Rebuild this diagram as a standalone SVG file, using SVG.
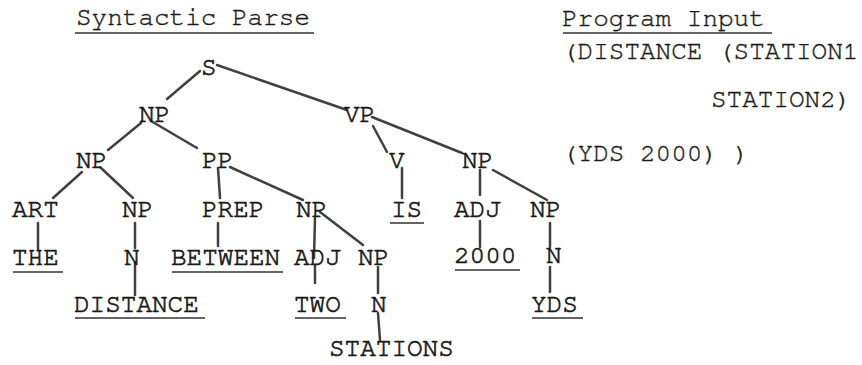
<svg xmlns="http://www.w3.org/2000/svg" width="862" height="365" viewBox="0 0 862 365">
<style>
text{font-family:"Nimbus Mono PS","FreeMono","Courier","Liberation Mono",monospace;font-size:26px;fill:#1a1a1a;stroke:#1a1a1a;stroke-width:0.7}
.t{stroke-width:0.4}
.ul{stroke:#333;stroke-width:1.6}
.c line{stroke:#404040;stroke-width:2.5;stroke-linecap:round}
</style>
<rect width="862" height="365" fill="#fff"/>
<g id="title-parse"><text class="t" x="76" y="25">Syntactic Parse</text><line class="ul" x1="75" y1="33" x2="314" y2="33"/></g>
<g id="title-input"><text class="t" x="562" y="26">Program Input</text><line class="ul" x1="563" y1="33" x2="772" y2="33"/></g>
<g id="input-text">
<text class="t" x="562" y="59">(DISTANCE (STATION1</text>
<text class="t" x="711" y="107">STATION2)</text>
<text class="t" x="562" y="161">(YDS 2000) )</text>
</g>
<g class="c" id="connectors">
<line x1="200" y1="71" x2="167" y2="99"/>
<line x1="217" y1="65" x2="347" y2="110"/>
<line x1="141" y1="123" x2="108" y2="150"/>
<line x1="151" y1="121" x2="197" y2="148"/>
<line x1="373" y1="126" x2="387" y2="152"/>
<line x1="372" y1="117" x2="462" y2="153"/>
<line x1="82" y1="172" x2="53" y2="198"/>
<line x1="100" y1="167" x2="133" y2="198"/>
<line x1="218" y1="168" x2="220" y2="198"/>
<line x1="230" y1="167" x2="303" y2="200"/>
<line x1="402" y1="168" x2="402" y2="198"/>
<line x1="480" y1="170" x2="480" y2="195"/>
<line x1="493" y1="170" x2="547" y2="200"/>
<line x1="38" y1="223" x2="38" y2="250"/>
<line x1="135" y1="223" x2="135" y2="248"/>
<line x1="218" y1="223" x2="218" y2="246"/>
<line x1="315" y1="218" x2="314" y2="258"/>
<line x1="320" y1="212" x2="363" y2="245"/>
<line x1="480" y1="221" x2="480" y2="247"/>
<line x1="550" y1="223" x2="550" y2="247"/>
<line x1="135" y1="263" x2="135" y2="295"/>
<line x1="315" y1="266" x2="315" y2="283"/>
<line x1="378" y1="267" x2="378" y2="293"/>
<line x1="378" y1="313" x2="380" y2="340"/>
<line x1="550" y1="267" x2="550" y2="292"/>
</g>
<g id="n-S"><text x="201" y="75">S</text></g>
<g id="n-NP1"><text x="139" y="122">NP</text></g>
<g id="n-VP"><text x="344" y="122">VP</text></g>
<g id="n-NP2"><text x="76" y="168">NP</text></g>
<g id="n-PP"><text x="202" y="168">PP</text></g>
<g id="n-V"><text x="389" y="168">V</text></g>
<g id="n-NP3"><text x="462" y="168">NP</text></g>
<g id="n-ART"><text x="12" y="217">ART</text></g>
<g id="n-NP4"><text x="122" y="217">NP</text></g>
<g id="n-PREP"><text x="202" y="217">PREP</text></g>
<g id="n-NP5"><text x="296" y="217">NP</text></g>
<g id="n-IS"><text x="391" y="217">IS</text><line class="ul" x1="390" y1="223" x2="424" y2="223"/></g>
<g id="n-ADJ1"><text x="454" y="217">ADJ</text></g>
<g id="n-NP6"><text x="530" y="217">NP</text></g>
<g id="n-THE"><text x="12" y="265">THE</text><line class="ul" x1="13" y1="272" x2="63" y2="272"/></g>
<g id="n-N1"><text x="124" y="265">N</text></g>
<g id="n-BETWEEN"><text x="171" y="265">BETWEEN</text><line class="ul" x1="172" y1="272" x2="283" y2="272"/></g>
<g id="n-ADJ2"><text x="294" y="265">ADJ</text></g>
<g id="n-NP7"><text x="358" y="265">NP</text></g>
<g id="n-2000"><text x="454" y="263">2000</text><line class="ul" x1="455" y1="270" x2="520" y2="270"/></g>
<g id="n-N2"><text x="546" y="263">N</text></g>
<g id="n-DISTANCE"><text x="74" y="312">DISTANCE</text><line class="ul" x1="75" y1="318" x2="205" y2="318"/></g>
<g id="n-TWO"><text x="294" y="312">TWO</text><line class="ul" x1="295" y1="318" x2="346" y2="318"/></g>
<g id="n-N3"><text x="371" y="312">N</text></g>
<g id="n-YDS"><text x="531" y="312">YDS</text><line class="ul" x1="532" y1="318" x2="583" y2="318"/></g>
<g id="n-STATIONS"><text x="329" y="356">STATIONS</text></g>
</svg>
